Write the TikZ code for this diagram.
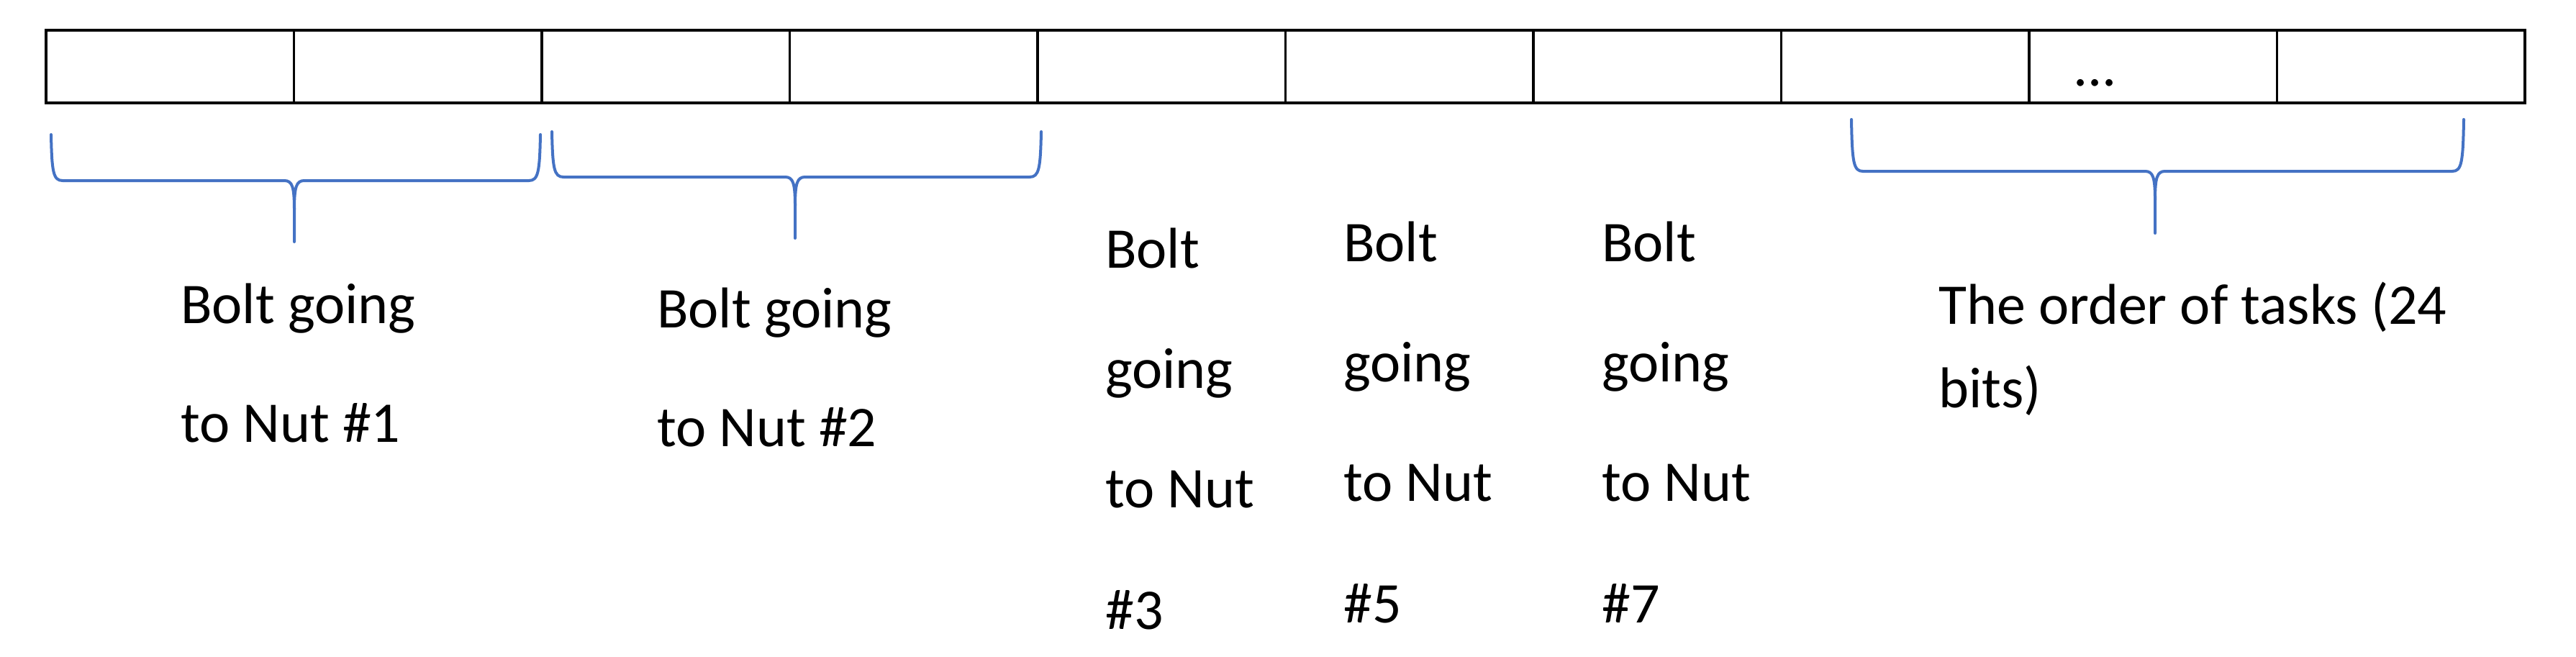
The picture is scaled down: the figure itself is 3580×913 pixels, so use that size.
\documentclass[tikz,border=0pt]{standalone}
\usepackage{fontspec}
\setmainfont{Carlito}
\definecolor{bracecol}{HTML}{4472C4}
\begin{document}
\begin{tikzpicture}[x=1pt,y=-1pt,
  cell/.style={draw=black,line width=3.5pt,minimum width=344.5pt,minimum height=101pt,inner sep=0pt,outer sep=0pt,anchor=north west},
  brace/.style={draw=bracecol,line width=4pt,line cap=round},
  lbl/.style={anchor=base west,inner sep=0pt,font=\fontsize{80}{96}\selectfont}]
\useasboundingbox[fill=white] (0,0) rectangle (3580,913);
% bit cells
\foreach \i in {1,...,10}
  \node[cell] (c\i) at ({64+(\i-1)*344.5},42) {};
\node[lbl] (dots) at (2881,119) {...};
% braces
\newcommand{\mybrace}[6]{% x1, x2, ytop, yh, xm, ytip
  \draw[brace] (#1,#3) .. controls (#1+1,#4-12) and (#1+3,#4) .. (#1+16,#4)
    -- (#5-14,#4) .. controls (#5-3,#4) and (#5,#4+8) .. (#5,#4+40) -- (#5,#6);
  \draw[brace] (#2,#3) .. controls (#2-1,#4-12) and (#2-3,#4) .. (#2-16,#4)
    -- (#5+14,#4) .. controls (#5+3,#4) and (#5,#4+8) .. (#5,#4+40);
}
\mybrace{71}{751}{187}{251}{409}{336}
\mybrace{767}{1447}{183}{246}{1105}{331}
\mybrace{2573}{3424}{166}{238}{2995}{324}
% labels
\node[lbl] (t1a) at (251,449) {Bolt going};
\node[lbl] (t1b) at (251,614) {to Nut \#1};
\node[lbl] (t2a) at (913,455) {Bolt going};
\node[lbl] (t2b) at (913,620) {to Nut \#2};
\node[lbl] (t3a) at (1536,372) {Bolt};
\node[lbl] (t3b) at (1536,539) {going};
\node[lbl] (t3c) at (1536,705) {to Nut};
\node[lbl] (t3d) at (1536,874) {\#3};
\node[lbl] (t5a) at (1867,363) {Bolt};
\node[lbl] (t5b) at (1867,530) {going};
\node[lbl] (t5c) at (1867,696) {to Nut};
\node[lbl] (t5d) at (1867,865) {\#5};
\node[lbl] (t7a) at (2226,363) {Bolt};
\node[lbl] (t7b) at (2226,530) {going};
\node[lbl] (t7c) at (2226,696) {to Nut};
\node[lbl] (t7d) at (2226,865) {\#7};
\node[lbl] (to1) at (2694,450) {The order of tasks (24};
\node[lbl] (to2) at (2694,566) {bits)};
\end{tikzpicture}
\end{document}
